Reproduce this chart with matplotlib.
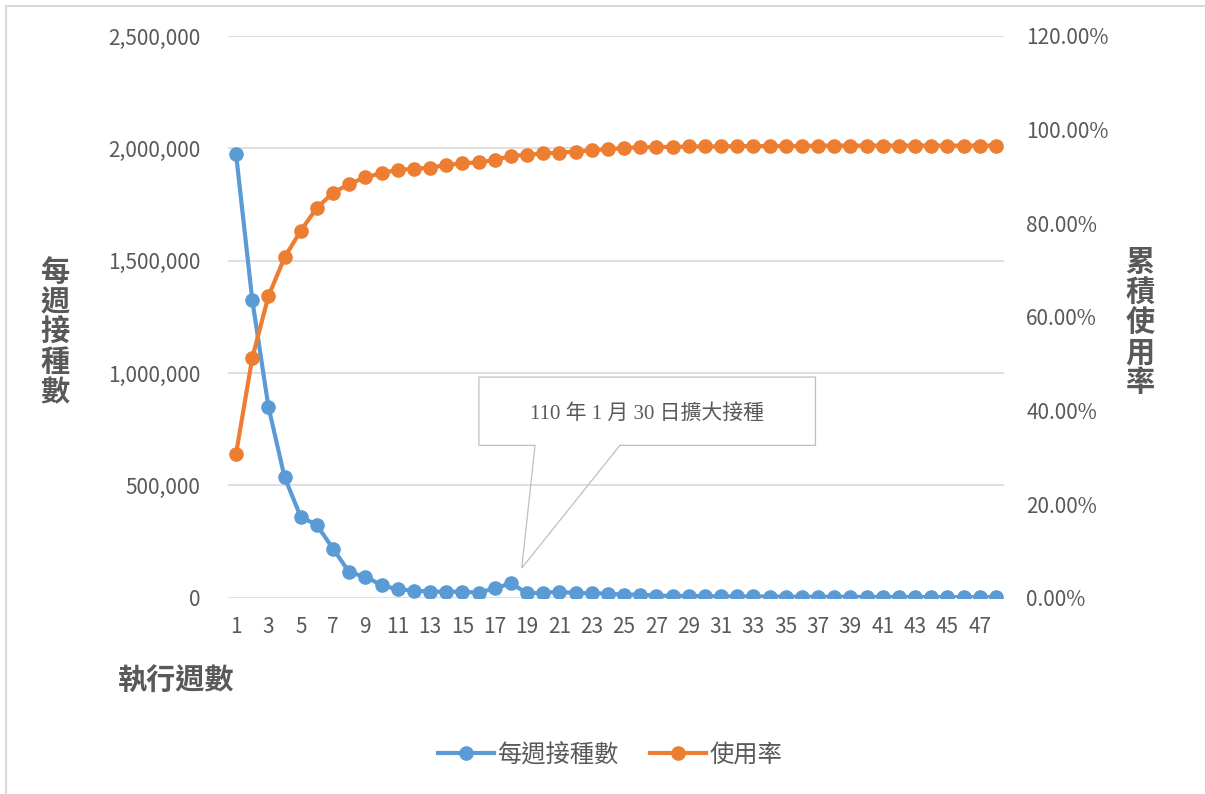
import numpy as np
import matplotlib.pyplot as plt
from matplotlib.patches import Rectangle, Polygon
from matplotlib.ticker import FuncFormatter, PercentFormatter
from matplotlib.lines import Line2D

plt.rcParams['font.family'] = ['Noto Sans CJK TC', 'DejaVu Sans']

weeks = np.arange(1, 49)

weekly_doses = np.array([
    1974000, 1326000, 850000, 536000, 360000, 323000, 218000, 113000,
    93000, 56000, 37000, 32000, 27000, 27000, 27000, 22000,
    42000, 64000, 20000, 22000, 27000, 20000, 20000, 18000,
    14000, 14000, 9000, 8500, 8000, 7000, 6500, 6000,
    5500, 5000, 4800, 4500, 4200, 4000, 3800, 3600,
    3400, 3200, 3000, 2800, 2600, 2500, 2400, 2300
])

usage_rate = np.array([
    30.8, 51.2, 64.4, 72.7, 78.4, 83.3, 86.5, 88.4,
    89.8, 90.7, 91.4, 91.6, 91.9, 92.4, 92.8, 93.0,
    93.5, 94.4, 94.6, 94.9, 95.1, 95.3, 95.6, 95.8,
    96.1, 96.2, 96.3, 96.3, 96.4, 96.4, 96.4, 96.5,
    96.5, 96.5, 96.5, 96.5, 96.6, 96.6, 96.6, 96.6,
    96.6, 96.6, 96.6, 96.6, 96.6, 96.6, 96.6, 96.6
]) / 100

blue = '#5b9bd5'
orange = '#ed7d31'
grey = '#595959'

fig = plt.figure(figsize=(12.05, 7.94), dpi=100)
ax = fig.add_axes([228/1205, 1-597.7/794, 776/1205, (597.7-36)/794])
ax2 = ax.twinx()

ax.plot(weeks, weekly_doses, color=blue, lw=3, marker='o', ms=9.5, zorder=3)
ax2.plot(weeks, usage_rate, color=orange, lw=3, marker='o', ms=9.5, zorder=3)

ax.set_xlim(0.5, 48.5)
ax.set_ylim(0, 2500000)
ax.set_yticks(np.arange(0, 2500001, 500000))
ax.yaxis.set_major_formatter(FuncFormatter(lambda v, p: f'{int(v):,}'))
ax2.set_ylim(0, 1.2)
ax2.set_yticks(np.arange(0, 1.21, 0.2))
ax2.yaxis.set_major_formatter(PercentFormatter(1.0, decimals=2))
ax.set_xticks(weeks[::2])

ax.grid(axis='y', color='#d9d9d9', lw=1.2)
ax.set_axisbelow(True)
for a in (ax, ax2):
    for s in a.spines.values():
        s.set_visible(False)
ax.tick_params(axis='y', length=0, pad=20, labelsize=15, labelcolor=grey)
ax.tick_params(axis='x', length=0, pad=13, labelsize=15, labelcolor=grey)
ax2.tick_params(axis='y', length=0, pad=16, labelsize=15, labelcolor=grey)

# callout
box = [(16.02, 982000), (36.84, 982000), (36.84, 678000), (24.74, 678000),
       (18.67, 132000), (19.49, 678000), (16.02, 678000)]
ax.add_patch(Polygon(box, closed=True, fill=False, edgecolor='#bfbfbf', lw=0.9, zorder=2))
ax.text(26.4, 820000, '110 年 1 月 30 日擴大接種', ha='center', va='center',
        fontsize=15, color=grey, family=['Liberation Serif', 'Noto Sans CJK TC'])

fig.text(55/1205, 1-332/794, '\n'.join('每週接種數'), ha='center', va='center',
         fontsize=21, fontweight='bold', color=grey, linespacing=1.0)
fig.text(1140/1205, 1-322/794, '\n'.join('累積使用率'), ha='center', va='center',
         fontsize=21, fontweight='bold', color=grey, linespacing=1.0)
fig.text(176/1205, 1-680/794, '執行週數', ha='center', va='center',
         fontsize=21, fontweight='bold', color=grey)

handles = [Line2D([], [], color=blue, lw=3, marker='o', ms=9.5),
           Line2D([], [], color=orange, lw=3, marker='o', ms=9.5)]
leg = fig.legend(handles, ['每週接種數', '使用率'], loc='center',
                 bbox_to_anchor=(610/1205, 1-755/794), ncol=2, frameon=False,
                 fontsize=17.5, handlelength=2.3, handletextpad=0.15, columnspacing=1.3)
for t in leg.get_texts():
    t.set_color(grey)

fig.add_artist(Rectangle((6/1205, -0.1), 1.2, 1-6/794+0.1, transform=fig.transFigure,
                         fill=False, edgecolor='#d9d9d9', lw=1.5))

fig.savefig('out.png', dpi=100)
